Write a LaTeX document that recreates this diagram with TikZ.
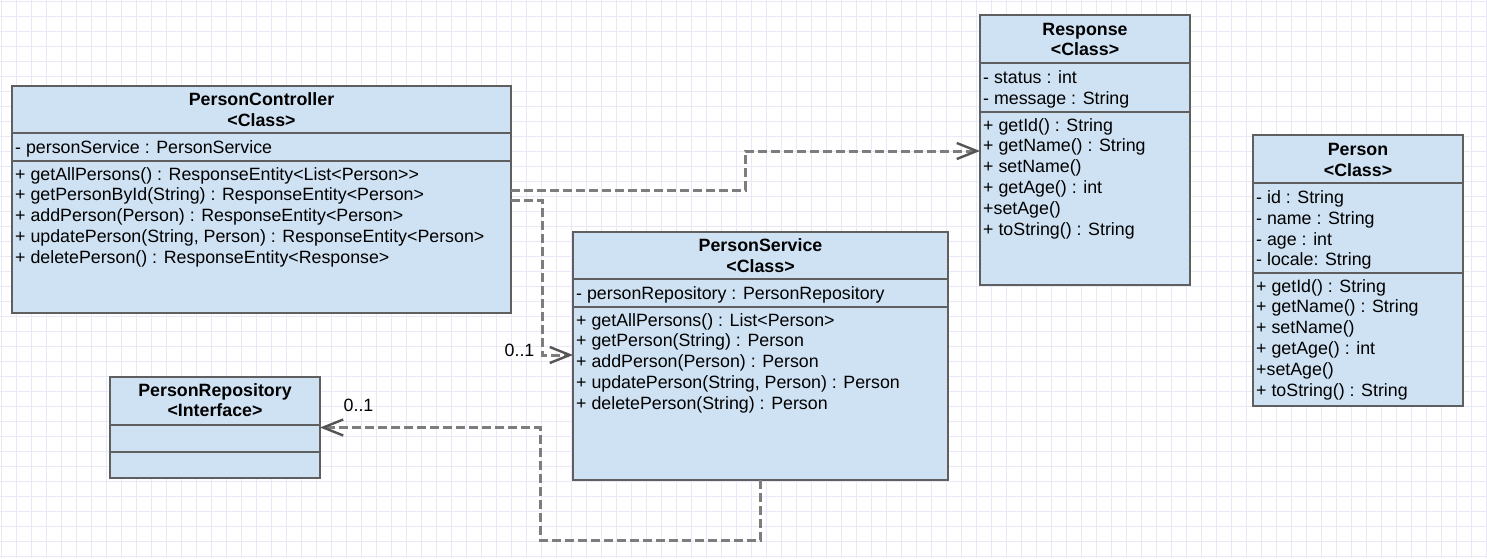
\documentclass[tikz,border=0pt]{standalone}
\usepackage{fontspec}
\setmainfont{Liberation Sans}
\usetikzlibrary{arrows.meta}
\definecolor{boxfill}{RGB}{207,226,243}
\definecolor{boxline}{RGB}{95,95,95}
\definecolor{depline}{RGB}{125,125,125}
\definecolor{arrline}{RGB}{85,85,85}
\definecolor{gridc}{RGB}{232,232,246}
\tikzset{
  umlbox/.style={draw=boxline, fill=boxfill, line width=2.9pt, inner sep=0pt, outer sep=0pt, anchor=north west},
  sepline/.style={draw=boxline, line width=2.9pt},
  mem/.style={anchor=base west, inner sep=0pt, font=\fontsize{17.8}{21}\selectfont},
  ttl/.style={anchor=base, inner sep=0pt, font=\fontsize{17.8}{21}\selectfont\bfseries},
  mult/.style={anchor=center, inner sep=0pt, font=\fontsize{17.8}{21}\selectfont},
  dep/.style={draw=depline, line width=3pt, dash pattern=on 9pt off 4pt,
     -{Straight Barb[length=20pt, width=16pt, line width=2.4pt, color=arrline]}},
  gridl/.style={draw=gridc, line width=0.8pt}
}
\newcommand\memberlist[4]{%
  \foreach \t [count=\i from 0] in {#4} {
    \node[mem] (#1\i) at ({#2},{#3+20.8*\i+6}) {\t};
  }%
}
\begin{document}
\begin{tikzpicture}[x=1pt, y=-1pt]
\useasboundingbox (0,0) rectangle (1487,558);
\fill[white] (0,0) rectangle (1487,558);
% grid
\foreach \x in {1.7,16.7,...,1487} \draw[gridl] (\x,0) -- (\x,558);
\foreach \y in {1.7,16.7,...,558} \draw[gridl] (0,\y) -- (1487,\y);

% PersonController
\node[umlbox, minimum width=499pt, minimum height=227pt] (pc) at (12,86) {};
\draw[sepline] (pc.west |- 0,133) -- (pc.east |- 0,133);
\draw[sepline] (pc.west |- 0,161) -- (pc.east |- 0,161);
\node[ttl] (pct1) at (261.5,105) {PersonController};
\node[ttl] (pct2) at (261.5,126) {<Class>};
\node[mem] (pca) at (15,153.5) {- personService : PersonService};
\memberlist{pcm}{15}{174}{+ getAllPersons() : ResponseEntity<List<Person>{}>,
  + getPersonById(String) : ResponseEntity<Person>,
  + addPerson(Person) : ResponseEntity<Person>,
  {+ updatePerson(String, Person) : ResponseEntity<Person>},
  + deletePerson() : ResponseEntity<Response>}

% Response
\node[umlbox, minimum width=210pt, minimum height=270pt] (resp) at (980,15) {};
\draw[sepline] (resp.west |- 0,63) -- (resp.east |- 0,63);
\draw[sepline] (resp.west |- 0,112) -- (resp.east |- 0,112);
\node[ttl] (rt1) at (1085,35) {Response};
\node[ttl] (rt2) at (1085,55.5) {<Class>};
\memberlist{ra}{983}{77.5}{- status : int, - message : String}
\memberlist{rm}{983}{125}{+ getId() : String, + getName() : String, + setName(),
  + getAge() : int, +setAge(), + toString() : String}

% Person
\node[umlbox, minimum width=210pt, minimum height=271pt] (per) at (1253,135) {};
\draw[sepline] (per.west |- 0,183) -- (per.east |- 0,183);
\draw[sepline] (per.west |- 0,273) -- (per.east |- 0,273);
\node[ttl] (pt1) at (1358,155) {Person};
\node[ttl] (pt2) at (1358,176) {<Class>};
\memberlist{pa}{1256}{197.5}{- id : String, - name : String, - age : int, - locale: String}
\memberlist{pm}{1256}{286}{+ getId() : String, + getName() : String, + setName(),
  + getAge() : int, +setAge(), + toString() : String}

% PersonService
\node[umlbox, minimum width=375pt, minimum height=248pt] (ps) at (573,232) {};
\draw[sepline] (ps.west |- 0,279) -- (ps.east |- 0,279);
\draw[sepline] (ps.west |- 0,307) -- (ps.east |- 0,307);
\node[ttl] (pst1) at (760.5,251) {PersonService};
\node[ttl] (pst2) at (760.5,272) {<Class>};
\node[mem] (psa) at (576,299.5) {- personRepository : PersonRepository};
\memberlist{psm}{576}{320}{+ getAllPersons() : List<Person>,
  + getPerson(String) : Person,
  + addPerson(Person) : Person,
  {+ updatePerson(String, Person) : Person},
  + deletePerson(String) : Person}

% PersonRepository
\node[umlbox, minimum width=210pt, minimum height=101pt] (pr) at (110,377) {};
\draw[sepline] (pr.west |- 0,425) -- (pr.east |- 0,425);
\draw[sepline] (pr.west |- 0,452) -- (pr.east |- 0,452);
\node[ttl] (prt1) at (215,396) {PersonRepository};
\node[ttl] (prt2) at (215,416.5) {<Interface>};

% connectors
\draw[dep] (pc.east |- 0,190) -- (745,190) -- (745,151) -- (resp.west |- 0,151);
\draw[dep] (pc.east |- 0,200) -- (542,200) -- (542,355) -- (ps.west |- 0,355);
\draw[dep] (ps.south) -- (ps.south |- 0,540) -- (540,540) -- (540,427.5) -- (pr.east);

\node[mult] (m1) at (519.5,350) {0..1};
\node[mult] (m2) at (358.5,405) {0..1};
\end{tikzpicture}
\end{document}
